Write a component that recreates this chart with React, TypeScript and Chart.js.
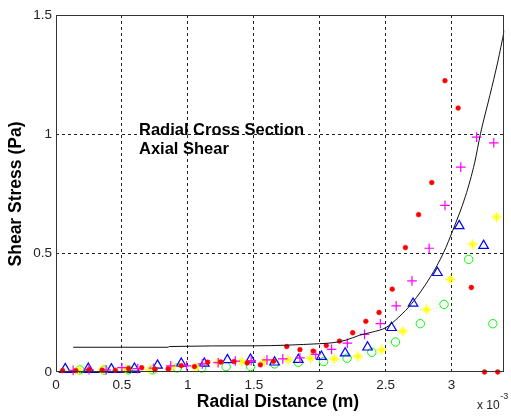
import React, { useEffect, useRef } from "react";
import { Chart, registerables } from "chart.js";

Chart.register(...registerables);

// Axis ticks (x in units of 10^-3 m)
const xTicks = [0, 0.5, 1, 1.5, 2, 2.5, 3];
const xTickLabels = ["0", "0.5", "1", "1.5", "2", "2.5", "3"];
const yTicks = [0, 0.5, 1, 1.5];
const yTickLabels = ["0", "0.5", "1", "1.5"];

const xTitle = "Radial Distance (m)";
const yTitle = "Shear Stress (Pa)";
const annotation = ["Radial Cross Section", "Axial Shear"];
const xExponentBase = "x 10";
const xExponent = "-3";

// Fitted curve (black line)
const fitX = [0.13, 0.85, 0.86, 1.5, 2.0, 2.1, 2.2, 2.3, 2.4, 2.5, 2.6, 2.7, 2.84, 2.94, 3.01, 3.105, 3.175, 3.22, 3.29, 3.35, 3.4];
const fitY = [0.104, 0.104, 0.107, 0.11, 0.119, 0.123, 0.134, 0.154, 0.168, 0.186, 0.231, 0.289, 0.4, 0.502, 0.596, 0.738, 0.879, 1.003, 1.161, 1.302, 1.436];

// Red dots
const redX = [0.05, 0.15, 0.25, 0.35, 0.45, 0.55, 0.65, 0.75, 0.85, 0.95, 1.05, 1.15, 1.25, 1.35, 1.45, 1.55, 1.65, 1.75, 1.85, 1.95, 2.05, 2.15, 2.25, 2.35, 2.45, 2.55, 2.65, 2.75, 2.85, 2.95, 3.05, 3.15, 3.25, 3.35];
const redY = [0.006, 0.006, 0.01, 0.008, 0.007, 0.014, 0.018, 0.012, 0.013, 0.027, 0.023, 0.041, 0.042, 0.044, 0.038, 0.03, 0.045, 0.107, 0.094, 0.088, 0.111, 0.13, 0.165, 0.213, 0.25, 0.348, 0.523, 0.661, 0.796, 1.224, 1.109, 0.355, 0, 0];

// Magenta plus
const magX = [0.13, 0.25, 0.38, 0.5, 0.62, 0.74, 0.87, 0.99, 1.11, 1.23, 1.36, 1.48, 1.6, 1.72, 1.85, 1.97, 2.09, 2.21, 2.34, 2.46, 2.58, 2.7, 2.83, 2.95, 3.07, 3.19, 3.32];
const magY = [0.007, 0.01, 0.009, 0.018, 0.014, 0.016, 0.026, 0.026, 0.034, 0.039, 0.046, 0.048, 0.051, 0.055, 0.059, 0.074, 0.095, 0.121, 0.158, 0.203, 0.278, 0.383, 0.52, 0.7, 0.861, 0.987, 0.963];

// Yellow stars
const yelX = [0.17, 0.35, 0.53, 0.71, 0.88, 1.06, 1.23, 1.41, 1.58, 1.76, 1.93, 2.11, 2.29, 2.47, 2.63, 2.81, 2.99, 3.16, 3.34];
const yelY = [0.008, 0.009, 0.01, 0.01, 0.021, 0.021, 0.041, 0.044, 0.045, 0.051, 0.058, 0.055, 0.066, 0.093, 0.172, 0.262, 0.389, 0.537, 0.651];

// Blue triangles
const bluX = [0.07, 0.245, 0.42, 0.595, 0.77, 0.95, 1.125, 1.3, 1.475, 1.658, 1.838, 2.013, 2.193, 2.363, 2.545, 2.708, 2.893, 3.058, 3.243];
const bluY = [0.013, 0.015, 0.012, 0.015, 0.028, 0.036, 0.036, 0.051, 0.053, 0.041, 0.052, 0.065, 0.079, 0.104, 0.186, 0.288, 0.417, 0.614, 0.531];

// Green circles
const grnX = [0.18, 0.365, 0.55, 0.735, 0.92, 1.105, 1.29, 1.475, 1.658, 1.838, 2.03, 2.208, 2.395, 2.575, 2.763, 2.943, 3.13, 3.313];
const grnY = [0.009, 0.008, 0.009, 0.009, 0.017, 0.017, 0.023, 0.023, 0.034, 0.041, 0.044, 0.058, 0.083, 0.126, 0.203, 0.284, 0.473, 0.203];

// Dark blue base segment
const baseX = [0.02, 0.64];
const baseY = [0, 0];

const FONT = "'Liberation Sans', Arial, Helvetica, sans-serif";

const pts = (xs: number[], ys: number[]) => xs.map((x, i) => ({ x, y: ys[i] }));

// MATLAB-like '*' marker: a plus with a smaller X through it
function makeStarMarker(color: string): HTMLCanvasElement {
  const c = document.createElement("canvas");
  c.width = 11;
  c.height = 11;
  const g = c.getContext("2d")!;
  g.strokeStyle = color;
  g.lineWidth = 1.4;
  g.beginPath();
  g.moveTo(5.5, 0.5);
  g.lineTo(5.5, 10.5);
  g.moveTo(0.5, 5.5);
  g.lineTo(10.5, 5.5);
  g.stroke();
  g.lineWidth = 1.2;
  g.beginPath();
  g.moveTo(2.8, 2.8);
  g.lineTo(8.2, 8.2);
  g.moveTo(8.2, 2.8);
  g.lineTo(2.8, 8.2);
  g.stroke();
  return c;
}

const overlayPlugin = {
  id: "overlay",
  afterDraw(chart: any) {
    const { ctx, chartArea: a } = chart;
    ctx.save();
    ctx.setLineDash([]);
    ctx.strokeStyle = "#333";
    ctx.lineWidth = 1;
    const l = Math.round(a.left) + 0.5;
    const t = Math.round(a.top) + 0.5;
    const r = Math.round(a.right) - 0.5;
    const b = Math.round(a.bottom) - 0.5;
    ctx.strokeRect(l, t, r - l, b - t);

    ctx.fillStyle = "#000";
    ctx.font = `bold 17.5px ${FONT}`;
    ctx.textAlign = "center";
    ctx.textBaseline = "alphabetic";
    ctx.fillText(xTitle, 278, 407);

    ctx.save();
    ctx.translate(20.5, 194);
    ctx.rotate(-Math.PI / 2);
    ctx.fillText(yTitle, 0, 0);
    ctx.restore();

    ctx.textAlign = "left";
    ctx.font = `bold 16.5px ${FONT}`;
    ctx.fillText(annotation[0], 139, 135);
    ctx.fillText(annotation[1], 139, 154);

    ctx.fillStyle = "#222";
    ctx.font = `12px ${FONT}`;
    ctx.fillText(xExponentBase, 477, 409);
    const w = ctx.measureText(xExponentBase).width;
    ctx.font = `9px ${FONT}`;
    ctx.fillText(xExponent, 477 + w + 0.5, 399);
    ctx.restore();
  },
};

export default function App() {
  const ref = useRef<HTMLCanvasElement | null>(null);

  useEffect(() => {
    const canvas = ref.current;
    if (!canvas) return;
    const starMarker = makeStarMarker("#ffff00");
    const chart = new Chart(canvas, {
      type: "scatter",
      data: {
        datasets: [
          {
            label: "fit",
            data: pts(fitX, fitY),
            showLine: true,
            borderColor: "#111",
            borderWidth: 1,
            pointRadius: 0,
            cubicInterpolationMode: "monotone",
          } as any,
          {
            label: "red",
            data: pts(redX, redY),
            pointStyle: "circle",
            pointRadius: 2.4,
            backgroundColor: "#ff0000",
            borderColor: "#ff0000",
            borderWidth: 0.5,
            clip: false,
          } as any,
          {
            label: "magenta",
            data: pts(magX, magY),
            pointStyle: "cross",
            pointRadius: 4.8,
            borderColor: "#ff00ff",
            backgroundColor: "#ff00ff",
            borderWidth: 1.2,
            clip: false,
          } as any,
          {
            label: "yellow",
            data: pts(yelX, yelY),
            pointStyle: starMarker,
            pointRadius: 5,
            borderColor: "#ffff00",
            backgroundColor: "#ffff00",
            clip: false,
          } as any,
          {
            label: "blue",
            data: pts(bluX, bluY),
            pointStyle: "triangle",
            pointRadius: 5.5,
            borderColor: "#0000ff",
            backgroundColor: "rgba(0,0,0,0)",
            borderWidth: 1.2,
            clip: false,
          } as any,
          {
            label: "green",
            data: pts(grnX, grnY),
            pointStyle: "circle",
            pointRadius: 4.2,
            borderColor: "#00ff00",
            backgroundColor: "rgba(0,0,0,0)",
            borderWidth: 1,
            clip: false,
          } as any,
          {
            label: "base",
            data: pts(baseX, baseY),
            showLine: true,
            borderColor: "#0000aa",
            borderWidth: 2,
            pointRadius: 0,
            clip: false,
          } as any,
        ],
      },
      options: {
        animation: false,
        responsive: false,
        maintainAspectRatio: false,
        events: [],
        layout: { padding: { left: 0, top: 15, right: 2, bottom: 0 } },
        plugins: {
          legend: { display: false },
          tooltip: { enabled: false },
          title: { display: false },
        },
        scales: {
          x: {
            type: "linear",
            min: 0,
            max: 3.4,
            afterBuildTicks: (s: any) => {
              s.ticks = xTicks.map((v) => ({ value: v }));
            },
            afterFit: (s: any) => {
              s.height = 47;
            },
            ticks: {
              autoSkip: false,
              maxRotation: 0,
              padding: 5,
              color: "#222",
              font: { family: FONT, size: 13.5 },
              callback: (_v: any, i: number) => xTickLabels[i],
            },
            grid: {
              drawTicks: false,
              lineWidth: 1,
              color: (c: any) => (c.tick && c.tick.value === 0 ? "rgba(0,0,0,0)" : "#222"),
            },
            border: { display: false, dash: [3, 3] },
          },
          y: {
            type: "linear",
            min: 0,
            max: 1.5,
            afterBuildTicks: (s: any) => {
              s.ticks = yTicks.map((v) => ({ value: v }));
            },
            afterFit: (s: any) => {
              s.width = 56;
            },
            ticks: {
              autoSkip: false,
              padding: 4,
              color: "#222",
              font: { family: FONT, size: 13.5 },
              callback: (_v: any, i: number) => yTickLabels[i],
            },
            grid: {
              drawTicks: false,
              lineWidth: 1,
              color: (c: any) =>
                c.tick && (c.tick.value === 0 || c.tick.value === 1.5) ? "rgba(0,0,0,0)" : "#222",
            },
            border: { display: false, dash: [3, 3] },
          },
        },
      },
      plugins: [overlayPlugin],
    });
    return () => chart.destroy();
  }, []);

  return (
    <div style={{ position: "fixed", left: 0, top: 0, width: 511, height: 419, background: "#fff" }}>
      <canvas ref={ref} width={511} height={419} style={{ display: "block", width: 511, height: 419 }} />
    </div>
  );
}
